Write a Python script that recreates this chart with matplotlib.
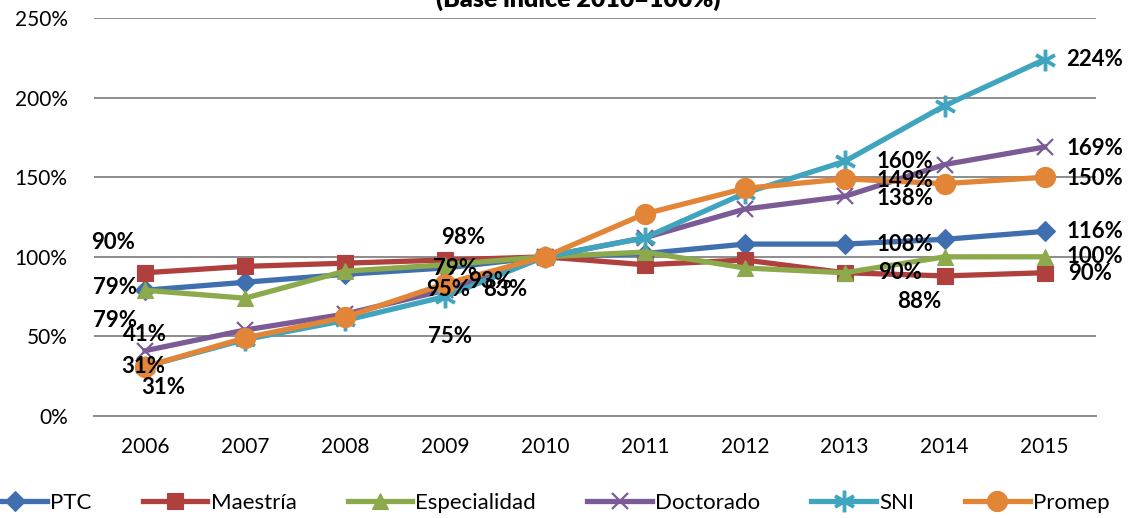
import matplotlib.pyplot as plt
import numpy as np

plt.rcParams['font.family'] = ['Lato', 'DejaVu Sans']

# datos (indice base 2010 = 100%)
anios = ['2006', '2007', '2008', '2009', '2010', '2011', '2012', '2013', '2014', '2015']
ptc = [79, 84, 89, 93, 100, 102, 108, 108, 111, 116]
maestria = [90, 94, 96, 98, 100, 95, 98, 90, 88, 90]
especialidad = [79, 74, 91, 95, 100, 103, 93, 90, 100, 100]
doctorado = [41, 54, 64, 79, 100, 112, 130, 138, 158, 169]
sni = [31, 48, 60, 75, 100, 112, 140, 160, 195, 224]
promep = [31, 49, 62, 83, 100, 127, 143, 149, 146, 150]

series = [
    ('PTC', ptc, '#3F6FAE', 'D', 10),
    ('Maestría', maestria, '#B0403D', 's', 11.5),
    ('Especialidad', especialidad, '#8CAA4B', '^', 11.5),
    ('Doctorado', doctorado, '#7A5B96', 'x', 12),
    ('SNI', sni, '#3FA5BE', '$\\ast$', 15),
    ('Promep', promep, '#E38536', 'o', 14.5),
]

# etiquetas: (serie, indice anio, dx, dy en pixeles)
etiquetas = [
    (1, 0, -32, 30), (0, 0, -30, 3), (2, 0, -30, -30), (3, 0, 0, 16), (4, 0, -2, 0), (5, 0, 18, -21),
    (1, 3, 18, 23), (3, 3, 10, 22), (0, 3, 45, -14), (2, 3, 3, -25), (5, 3, 60, -6), (4, 3, 5, -40),
    (4, 7, 60, 0), (5, 7, 60, -2), (3, 7, 60, -2), (0, 7, 60, 0), (2, 7, 55, 0),
    (1, 8, -25, -26),
    (4, 9, 50, 0), (3, 9, 50, -1), (5, 9, 50, -1), (0, 9, 50, 0), (2, 9, 50, 0), (1, 9, 45, -1),
]

fig = plt.figure(figsize=(11.33, 5.18), dpi=100)
ax = fig.add_axes([0.083, 0.197, 0.884, 0.768])

x = np.arange(len(anios))
for nombre, vals, color, mk, ms in series:
    ax.plot(x, vals, color=color, lw=3.8, marker=mk, markersize=ms,
            markeredgecolor=color, markeredgewidth=1.6 if mk == 'x' else 0.8, label=nombre)

for s, i, dx, dy in etiquetas:
    v = series[s][1][i]
    ax.annotate('%d%%' % v, (x[i], v), xytext=(dx, dy), textcoords='offset pixels',
                ha='center', va='center', fontsize=16, fontweight='bold', color='black')

ax.set_xlim(-0.51, 9.51)
ax.set_ylim(0, 250)
ax.set_yticks(np.arange(0, 251, 50))
ax.set_yticklabels(['%d%%' % t for t in range(0, 251, 50)])
ax.set_xticks(x)
ax.set_xticklabels(anios)
ax.yaxis.grid(True, color='#8c8c8c', lw=1.4)
ax.set_axisbelow(True)
for sp in ['top', 'right', 'left']:
    ax.spines[sp].set_visible(False)
ax.spines['bottom'].set_color('#8c8c8c')
ax.spines['bottom'].set_linewidth(1.4)
ax.tick_params(axis='both', length=0, labelsize=15)
ax.tick_params(axis='y', pad=19)
ax.tick_params(axis='x', pad=15)

fig.text(0.51, 0.986, '(Base índice 2010=100%)', ha='center', va='baseline',
         fontsize=18, fontweight='heavy')

fig.legend(loc='center', bbox_to_anchor=(0.482, 0.029), ncol=6, frameon=False,
           fontsize=16, handlelength=2.9, handletextpad=0.15, columnspacing=2.3)

plt.savefig('out.png')
